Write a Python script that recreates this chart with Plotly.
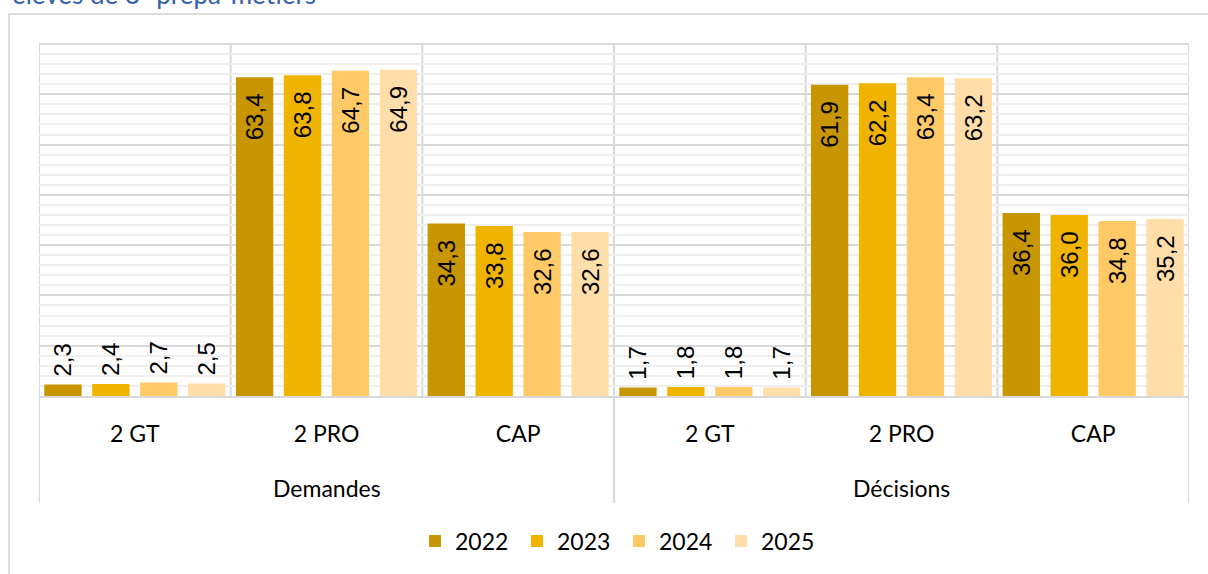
import plotly.graph_objects as go

# ---- data ----
groups = ["Demandes", "Décisions"]
categories = ["2 GT", "2 PRO", "CAP", "2 GT", "2 PRO", "CAP"]
years = ["2022", "2023", "2024", "2025"]
v2022 = [2.3, 63.4, 34.3, 1.7, 61.9, 36.4]
v2023 = [2.4, 63.8, 33.8, 1.8, 62.2, 36.0]
v2024 = [2.7, 64.7, 32.6, 1.8, 63.4, 34.8]
v2025 = [2.5, 64.9, 32.6, 1.7, 63.2, 35.2]
series = [v2022, v2023, v2024, v2025]
colors = ["#C89600", "#F0B400", "#FFC966", "#FFDEAA"]

W, H = 1208, 574
L, R, T, B = 39, 19, 44, 178
PW, PH = W - L - R, H - T - B


def py(pix):  # pixel y -> paper y
    return (H - B - pix) / PH


def px(pix):  # pixel x -> paper x
    return (pix - L) / PW


xpos = list(range(len(categories)))
label_font = dict(family="Liberation Sans, Arial, sans-serif", size=24, color="#000000")

fig = go.Figure()
for yr, vals, col in zip(years, series, colors):
    inside = [v > 10 for v in vals]
    pos = ["inside" if i else "outside" for i in inside]
    tmpl = ["%{y:.1f}\u00a0\u00a0" if i else "\u2009%{y:.1f}" for i in inside]
    fig.add_trace(go.Bar(
        name=yr, x=xpos, y=vals,
        marker=dict(color=col, line=dict(width=0)),
        texttemplate=tmpl,
        textposition=pos,
        textangle=-90,
        textfont=label_font,
        insidetextfont=label_font,
        outsidetextfont=label_font,
        constraintext="none",
        cliponaxis=False,
        hoverinfo="skip",
    ))

grid = "#D9D9D9"
shapes = []
# inner separators between categories
for b in [0.5, 1.5, 3.5, 4.5]:
    shapes.append(dict(type="line", xref="x", yref="y", x0=b, x1=b, y0=0, y1=70,
                       line=dict(color=grid, width=2), layer="below"))
# outer separators (extend into label area)
for b in [-0.5, 2.5, 5.5]:
    shapes.append(dict(type="line", xref="x", yref="paper", x0=b, x1=b, y0=py(503), y1=1,
                       line=dict(color=grid, width=2), layer="below"))
# top border of plot
shapes.append(dict(type="line", xref="paper", yref="paper", x0=0, x1=1, y0=1, y1=1,
                   line=dict(color=grid, width=2), layer="below"))
# outer frame
shapes.append(dict(type="rect", xref="paper", yref="paper", x0=px(9), x1=1.2, y0=py(14), y1=-1,
                   line=dict(color="#DCDCDC", width=2), layer="below"))

annotations = [
    dict(text=g, x=c, xref="x", y=py(488), yref="paper", showarrow=False,
         font=dict(family="Lato, sans-serif", size=23, color="#000000"),
         xanchor="center", yanchor="middle")
    for g, c in zip(groups, [1, 4])
]
annotations.append(dict(text="élèves de 3<sup>e</sup> prépa-métiers", x=px(10), xref="paper",
                        y=py(12), yref="paper", xanchor="left", yanchor="bottom",
                        showarrow=False,
                        font=dict(family="Lato, sans-serif", size=26, color="#3560AD")))

fig.update_layout(
    width=W, height=H,
    margin=dict(l=L, r=R, t=T, b=B, pad=0),
    paper_bgcolor="white", plot_bgcolor="white",
    barmode="group", bargap=0.0, bargroupgap=0.22,
    separators=", ",
    showlegend=True,
    legend=dict(orientation="h", x=px(619), xanchor="center", y=py(541), yanchor="middle",
                font=dict(family="Lato, sans-serif", size=23, color="#000000"),
                itemwidth=30, entrywidth=57, entrywidthmode="pixels", traceorder="normal"),
    xaxis=dict(range=[-0.5, 5.5], tickmode="array", tickvals=xpos, ticktext=categories,
               showgrid=False, zeroline=False, showline=True, linecolor=grid, linewidth=2,
               ticks="", ticklabelstandoff=16,
               tickfont=dict(family="Lato, sans-serif", size=23, color="#000000")),
    yaxis=dict(range=[0, 70], dtick=10, showticklabels=False, showgrid=True, gridcolor=grid,
               gridwidth=2, zeroline=False, showline=False, ticks="",
               minor=dict(dtick=2, showgrid=True, gridcolor="#EFEFEF", gridwidth=1.5)),
    shapes=shapes,
    annotations=annotations,
)

fig.write_html("out.html", config={"displayModeBar": False},
               post_script="document.body.style.margin='0';")
